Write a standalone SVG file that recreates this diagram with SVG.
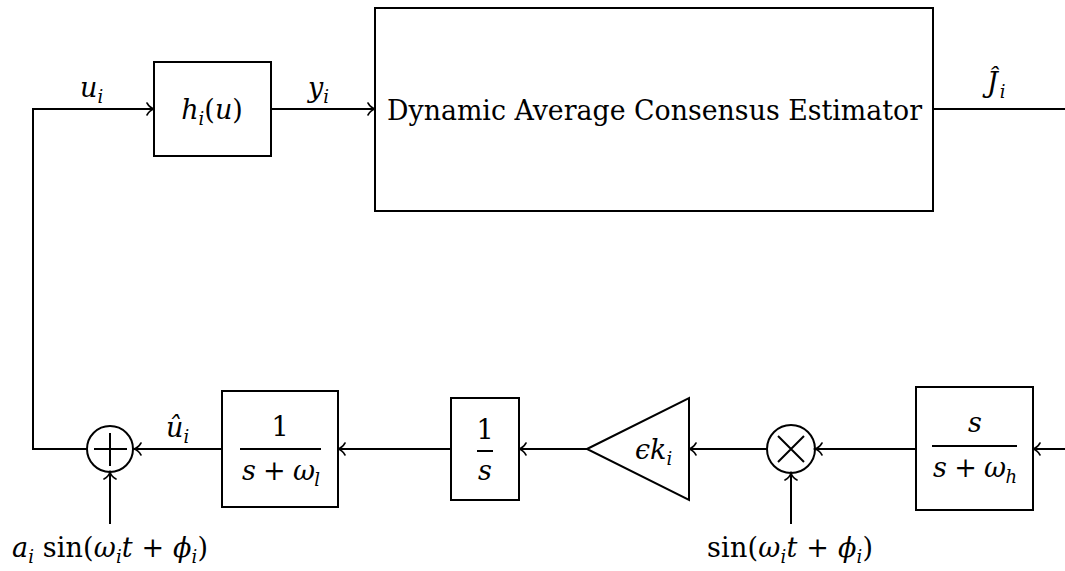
<svg xmlns="http://www.w3.org/2000/svg" width="1065" height="571" viewBox="0 0 1065 571">
<style>
.box{fill:#fff;stroke:#000;stroke-width:2}
.ln{fill:none;stroke:#000;stroke-width:2}
.arr{marker-end:url(#tip)}
.t{font-family:'DejaVu Serif','Liberation Serif',serif;font-size:27px;fill:#000}
.it{font-style:italic}
.sb{font-size:18px;font-style:italic}
</style>
<defs>
<marker id="tip" viewBox="-9 -7 11 14" refX="0" refY="0" markerWidth="11" markerHeight="14" markerUnits="userSpaceOnUse" orient="auto">
<path d="M-7,-6 C-5,-2.5 -2,-0.6 0,0 C-2,0.6 -5,2.5 -7,6" fill="none" stroke="#000" stroke-width="1.6" stroke-linecap="round"/>
</marker>
</defs>
<rect width="1065" height="571" fill="#fff"/>
<g id="connectors">
<path class="ln arr" d="M87,449 H33 V109 H154"/>
<path class="ln arr" d="M271,109 H375"/>
<path class="ln" d="M933,109 H1065"/>
<path class="ln arr" d="M1065,449 H1033"/>
<path class="ln arr" d="M916,449 H815"/>
<path class="ln arr" d="M767,449 H689"/>
<path class="ln arr" d="M587,449 H519"/>
<path class="ln arr" d="M451,449 H338"/>
<path class="ln arr" d="M222,449 H134"/>
<path class="ln arr" d="M110,524 V472"/>
<path class="ln arr" d="M791,524 V473"/>
</g>
<g id="labels">
<text class="t" x="80" y="97"><tspan class="it">u</tspan><tspan class="sb" dy="6">i</tspan></text>
<text class="t" x="308" y="97"><tspan class="it">y</tspan><tspan class="sb" dy="6">i</tspan></text>
<text class="t" x="987" y="92"><tspan class="it">Ĵ</tspan><tspan class="sb" dx="2" dy="6">i</tspan></text>
<text class="t" x="166" y="437"><tspan class="it">û</tspan><tspan class="sb" dy="6">i</tspan></text>
<text class="t" x="12" y="557" textLength="196" lengthAdjust="spacing"><tspan class="it">a</tspan><tspan class="sb" dy="6">i</tspan><tspan dy="-6"> sin(</tspan><tspan class="it">ω</tspan><tspan class="sb" dy="6">i</tspan><tspan class="it" dy="-6">t</tspan><tspan> + </tspan><tspan class="it">ϕ</tspan><tspan class="sb" dy="6">i</tspan><tspan dy="-6">)</tspan></text>
<text class="t" x="707" y="557" textLength="166" lengthAdjust="spacing"><tspan>sin(</tspan><tspan class="it">ω</tspan><tspan class="sb" dy="6">i</tspan><tspan class="it" dy="-6">t</tspan><tspan> + </tspan><tspan class="it">ϕ</tspan><tspan class="sb" dy="6">i</tspan><tspan dy="-6">)</tspan></text>
</g>
<g id="h">
<rect class="box" x="154" y="62" width="117" height="94"/>
<text class="t" x="212" y="119" text-anchor="middle" font-size="29"><tspan class="it">h</tspan><tspan class="sb" dy="6">i</tspan><tspan dy="-6">(</tspan><tspan class="it">u</tspan><tspan>)</tspan></text>
</g>
<g id="dace">
<rect class="box" x="375" y="8" width="558" height="203"/>
<text class="t" x="387" y="120" font-size="28" textLength="535" lengthAdjust="spacingAndGlyphs">Dynamic Average Consensus Estimator</text>
</g>
<g id="sum">
<circle class="ln" cx="110" cy="449" r="23"/>
<path class="ln" d="M94,449 H127 M110,433 V466"/>
</g>
<g id="lowpass">
<rect class="box" x="222" y="391" width="116" height="116"/>
<text class="t" x="280" y="436" text-anchor="middle">1</text>
<line class="ln" x1="240" y1="449" x2="321" y2="449" stroke-width="1.5"/>
<text class="t" x="242" y="480" textLength="78" lengthAdjust="spacing"><tspan class="it">s</tspan><tspan> + </tspan><tspan class="it">ω</tspan><tspan class="sb" dy="6">l</tspan></text>
</g>
<g id="integrator">
<rect class="box" x="451" y="398" width="68" height="102"/>
<text class="t" x="485" y="439" text-anchor="middle">1</text>
<line class="ln" x1="477" y1="451" x2="493" y2="451" stroke-width="1.5"/>
<text class="t it" x="485" y="480" text-anchor="middle">s</text>
</g>
<g id="gain">
<path class="box" d="M587,449 L689,398 L689,500 Z"/>
<text class="t" x="635" y="459"><tspan class="it">ϵk</tspan><tspan class="sb" dy="6">i</tspan></text>
</g>
<g id="mult">
<circle class="ln" cx="791" cy="449" r="24"/>
<path class="ln" d="M778,436 L804,462 M804,436 L778,462"/>
</g>
<g id="highpass">
<rect class="box" x="916" y="387" width="117" height="123"/>
<text class="t it" x="975" y="432" text-anchor="middle">s</text>
<line class="ln" x1="932" y1="446" x2="1017" y2="446" stroke-width="1.5"/>
<text class="t" x="933" y="477" textLength="84" lengthAdjust="spacing"><tspan class="it">s</tspan><tspan> + </tspan><tspan class="it">ω</tspan><tspan class="sb" dy="6">h</tspan></text>
</g>
</svg>
